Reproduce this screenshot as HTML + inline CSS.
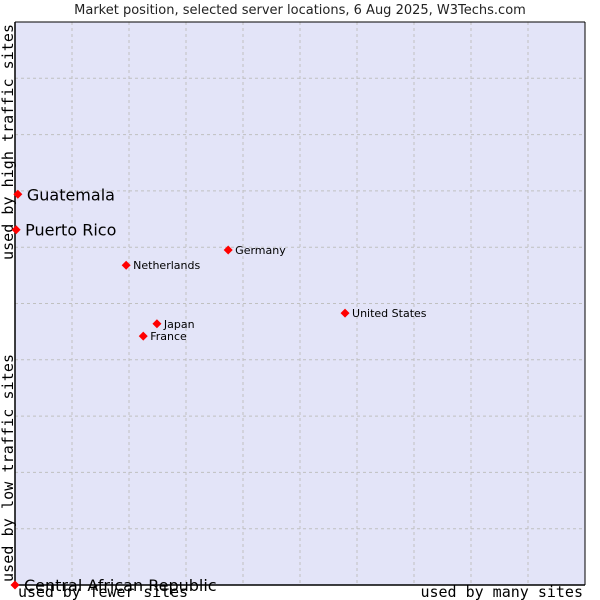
<!DOCTYPE html>
<html><head><meta charset="utf-8"><style>
body{margin:0;background:#fff;width:600px;height:600px;overflow:hidden}
svg{display:block}
text{font-family:"DejaVu Sans","Liberation Sans",sans-serif}
.mono{font-family:"DejaVu Sans Mono","Liberation Mono",monospace}
</style></head><body>
<svg id="chart" width="600" height="600">
<text x="300" y="14" text-anchor="middle" font-size="13" fill="#222">Market position, selected server locations, 6 Aug 2025, W3Techs.com</text>
<rect x="15" y="22" width="570" height="563" fill="#e3e4f8"/>
<g id="grid"></g>
<line x1="15" y1="22" x2="15" y2="585" stroke="#000" stroke-width="1.5"/>
<line x1="15" y1="585" x2="585" y2="585" stroke="#000" stroke-width="1.5"/>
<line x1="15" y1="22" x2="585" y2="22" stroke="#000" stroke-width="1"/>
<line x1="585" y1="22" x2="585" y2="585" stroke="#000" stroke-width="1"/>
<text class="mono" x="18" y="597" font-size="15" textLength="170">used by fewer sites</text>
<text class="mono" x="583" y="597" font-size="15" text-anchor="end">used by many sites</text>
<text class="mono" transform="translate(13,582) rotate(-90)" font-size="15" textLength="228">used by low traffic sites</text>
<text class="mono" transform="translate(13,260) rotate(-90)" font-size="15" textLength="236">used by high traffic sites</text>
<g id="points"></g>
</svg>
<script>
const categories=["Guatemala","Puerto Rico","Germany","Netherlands","United States","Japan","France","Central African Republic"];
const xValues=[0.5,0.2,37.4,19.5,57.9,24.9,22.5,0];
const yValues=[69.4,63.1,59.5,56.8,48.3,46.4,44.2,0];
const largeLabels=[true,true,false,false,false,false,false,true];
const L=15,R=585,T=22,B=585;
const xs=v=>L+v/100*(R-L);
const ys=v=>B-v/100*(B-T);
const NS="http://www.w3.org/2000/svg";
const grid=document.getElementById('grid');
for(let i=1;i<10;i++){
 const gx=document.createElementNS(NS,'line');
 gx.setAttribute('x1',xs(i*10));gx.setAttribute('x2',xs(i*10));gx.setAttribute('y1',T);gx.setAttribute('y2',B);
 gx.setAttribute('stroke','#c0c0c0');gx.setAttribute('stroke-dasharray','3,3');
 
 
 grid.appendChild(gx);
 const gy=document.createElementNS(NS,'line');
 gy.setAttribute('y1',ys(i*10));gy.setAttribute('y2',ys(i*10));gy.setAttribute('x1',L);gy.setAttribute('x2',R);
 gy.setAttribute('stroke','#c0c0c0');gy.setAttribute('stroke-dasharray','3,3');
 
 
 grid.appendChild(gy);
}
const pts=document.getElementById('points');
categories.forEach((c,i)=>{
 const x=xs(xValues[i]),y=ys(yValues[i]);
 const d=document.createElementNS(NS,'polygon');
 d.setAttribute('points',`${x},${y-4.5} ${x+4.5},${y} ${x},${y+4.5} ${x-4.5},${y}`);
 d.setAttribute('fill','#f00');
 
 
 pts.appendChild(d);
 const t=document.createElementNS(NS,'text');
 const big=largeLabels[i];
 t.setAttribute('x',x+(big?9:7));t.setAttribute('y',y+(big?6:4));
 t.setAttribute('font-size',big?16:11);t.setAttribute('fill','#000');
 t.textContent=c;
 
 
 pts.appendChild(t);
});
</script>
</body></html>
